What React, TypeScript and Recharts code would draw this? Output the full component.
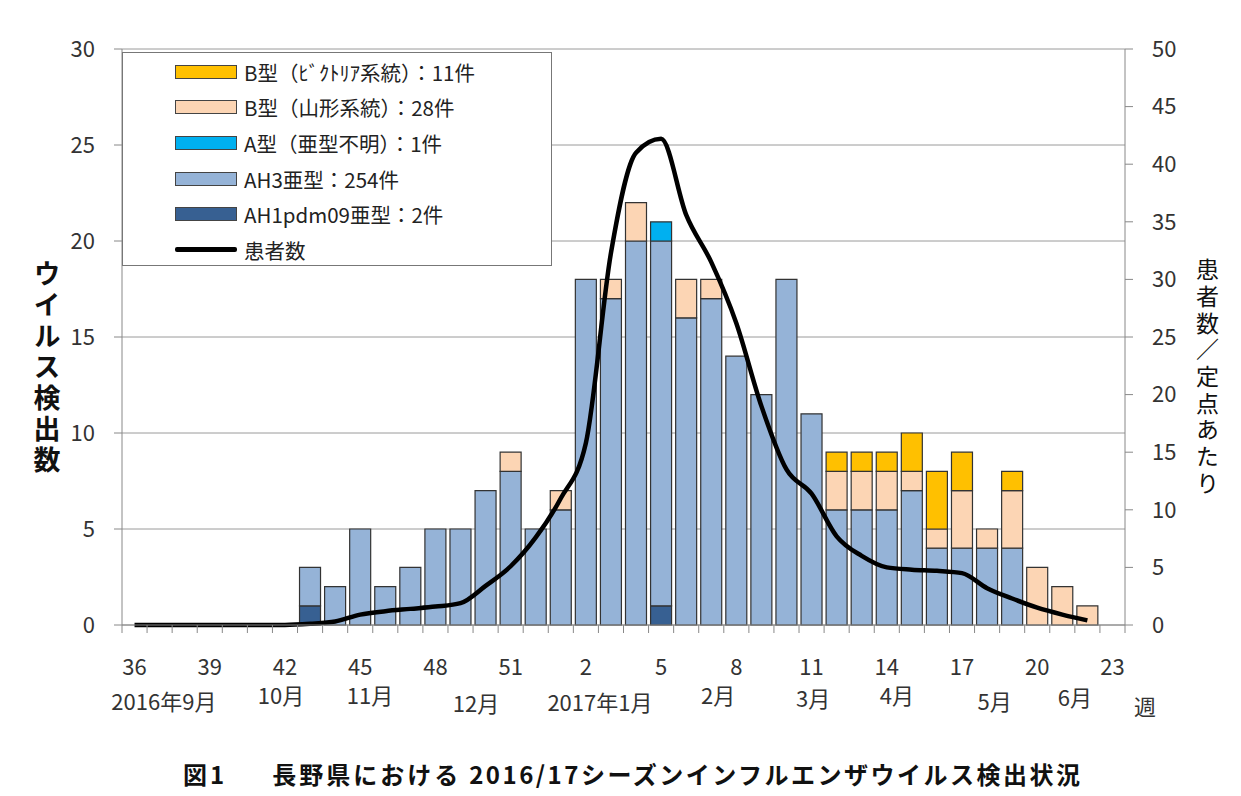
import React from "react";
import {
  ComposedChart,
  Bar,
  Line,
  XAxis,
  YAxis,
  CartesianGrid,
} from "recharts";

// 週（2016年36週〜2017年23週）
const weeks = [
  "36", "37", "38", "39", "40", "41", "42", "43", "44", "45", "46", "47", "48",
  "49", "50", "51", "52", "1", "2", "3", "4", "5", "6", "7", "8", "9", "10",
  "11", "12", "13", "14", "15", "16", "17", "18", "19", "20", "21", "22", "23",
];

const ah1pdm09 = [
  0, 0, 0, 0, 0, 0, 0, 1, 0, 0, 0, 0, 0, 0, 0, 0, 0, 0, 0, 0, 0, 1, 0, 0, 0, 0,
  0, 0, 0, 0, 0, 0, 0, 0, 0, 0, 0, 0, 0, 0,
];
const ah3 = [
  0, 0, 0, 0, 0, 0, 0, 2, 2, 5, 2, 3, 5, 5, 7, 8, 5, 6, 18, 17, 20, 19, 16, 17,
  14, 12, 18, 11, 6, 6, 6, 7, 4, 4, 4, 4, 0, 0, 0, 0,
];
const aUnknown = [
  0, 0, 0, 0, 0, 0, 0, 0, 0, 0, 0, 0, 0, 0, 0, 0, 0, 0, 0, 0, 0, 1, 0, 0, 0, 0,
  0, 0, 0, 0, 0, 0, 0, 0, 0, 0, 0, 0, 0, 0,
];
const bYamagata = [
  0, 0, 0, 0, 0, 0, 0, 0, 0, 0, 0, 0, 0, 0, 0, 1, 0, 1, 0, 1, 2, 0, 2, 1, 0, 0,
  0, 0, 2, 2, 2, 1, 1, 3, 1, 3, 3, 2, 1, 0,
];
const bVictoria = [
  0, 0, 0, 0, 0, 0, 0, 0, 0, 0, 0, 0, 0, 0, 0, 0, 0, 0, 0, 0, 0, 0, 0, 0, 0, 0,
  0, 0, 1, 1, 1, 2, 3, 2, 0, 1, 0, 0, 0, 0,
];
// 患者数／定点あたり
const patients: (number | null)[] = [
  0, 0, 0, 0, 0, 0, 0, 0.1, 0.3, 0.9, 1.2, 1.4, 1.6, 1.9, 3.4, 5.1, 7.6, 11.0,
  15.8, 32.3, 41.0, 42.2, 35.6, 31.5, 26.2, 19.0, 13.5, 11.4, 7.7, 6.0, 5.0,
  4.8, 4.7, 4.5, 3.2, 2.3, 1.5, 0.9, 0.4, null,
];

const leftTicks = [0, 5, 10, 15, 20, 25, 30];
const rightTicks = [0, 5, 10, 15, 20, 25, 30, 35, 40, 45, 50];

const monthLabels = [
  "2016年9月", "10月", "11月", "12月", "2017年1月", "2月", "3月", "4月", "5月", "6月", "週",
];
// 月ラベルの位置（週インデックス単位）と縦位置
const monthAt = [1.17, 5.84, 9.39, 13.62, 18.56, 23.27, 27.06, 30.4, 34.3, 37.5, 40.3];
const monthY = [692, 686, 686, 694, 693, 686, 689, 686, 692, 688, 697];

const legendItems = [
  { key: "bVictoria", label: "B型（ﾋﾞｸﾄﾘｱ系統）：11件", color: "#FFC000" },
  { key: "bYamagata", label: "B型（山形系統）：28件", color: "#FCD5B4" },
  { key: "aUnknown", label: "A型（亜型不明）：1件", color: "#00B0F0" },
  { key: "ah3", label: "AH3亜型：254件", color: "#95B3D7" },
  { key: "ah1pdm09", label: "AH1pdm09亜型：2件", color: "#376092" },
];

const data = weeks.map((w, i) => ({
  week: w,
  ah1pdm09: ah1pdm09[i],
  ah3: ah3[i],
  aUnknown: aUnknown[i],
  bYamagata: bYamagata[i],
  bVictoria: bVictoria[i],
  patients: patients[i],
}));

const FONT = '"Noto Sans CJK JP", "Noto Sans", sans-serif';
const W = 1225;
const H = 780;
const PLOT_LEFT = 114;
const PLOT_W = 1003;
const BAND = PLOT_W / weeks.length;

function WeekTick(props: any) {
  const { x, y, payload, index } = props;
  const half = BAND / 2;
  return (
    <g>
      <line x1={x - half} x2={x - half} y1={y} y2={y + 8} stroke="#888" />
      {index === weeks.length - 1 && (
        <line x1={x + half} x2={x + half} y1={y} y2={y + 8} stroke="#888" />
      )}
      {index % 3 === 0 && (
        <text
          x={x}
          y={y + 40}
          textAnchor="middle"
          dominantBaseline="central"
          fontSize={22}
          fill="#333"
          fontFamily={FONT}
        >
          {payload.value}
        </text>
      )}
    </g>
  );
}

export default function App() {
  const order = [...legendItems].reverse();
  const rowStyle = {
    display: "flex",
    alignItems: "center",
    height: 35.6,
    fontSize: 20.5,
    color: "#222",
  } as const;
  return (
    <div style={{ position: "relative", width: W, height: H, fontFamily: FONT }}>
      <div
        style={{
          position: "absolute",
          left: -1,
          top: -1,
          width: W + 20,
          height: H + 20,
          borderLeft: "1px solid #bdbdbd",
          borderTop: "1px solid #bdbdbd",
        }}
      />
      <ComposedChart
        width={W}
        height={H}
        data={data}
        margin={{ top: 41, right: 48, left: 54, bottom: 123 }}
      >
        <CartesianGrid yAxisId="left" vertical={false} stroke="#9a9a9a" />
        <XAxis
          dataKey="week"
          interval={0}
          height={40}
          tickSize={0}
          tickMargin={0}
          tickLine={false}
          axisLine={{ stroke: "#888" }}
          tick={<WeekTick />}
        />
        <YAxis
          yAxisId="left"
          width={60}
          domain={[0, 30]}
          ticks={leftTicks}
          tickSize={8}
          tickMargin={19}
          axisLine={{ stroke: "#888" }}
          tickLine={{ stroke: "#888" }}
          tick={{ fill: "#333", fontSize: 22, fontFamily: FONT }}
        />
        <YAxis
          yAxisId="right"
          orientation="right"
          width={60}
          domain={[0, 50]}
          ticks={rightTicks}
          tickSize={8}
          tickMargin={19}
          axisLine={{ stroke: "#888" }}
          tickLine={{ stroke: "#888" }}
          tick={{ fill: "#333", fontSize: 22, fontFamily: FONT }}
        />
        {order.map((s) => (
          <Bar
            key={s.key}
            yAxisId="left"
            dataKey={s.key}
            stackId="a"
            barSize={21}
            fill={s.color}
            stroke="#333"
            strokeWidth={1.2}
            isAnimationActive={false}
          />
        ))}
        <Line
          yAxisId="right"
          dataKey="patients"
          type="monotone"
          stroke="#000"
          strokeWidth={4.5}
          dot={false}
          isAnimationActive={false}
        />
      </ComposedChart>

      {/* 凡例 */}
      <div
        style={{
          position: "absolute",
          left: PLOT_LEFT,
          top: 44,
          width: 430,
          height: 214,
          boxSizing: "border-box",
          background: "#fff",
          border: "1.5px solid #777",
          paddingTop: 1,
        }}
      >
        {legendItems.map((it) => (
          <div key={it.key} style={rowStyle}>
            <div
              style={{
                marginLeft: 52,
                width: 62,
                height: 14,
                boxSizing: "border-box",
                background: it.color,
                border: "1.5px solid #444",
              }}
            />
            <span style={{ marginLeft: 7 }}>{it.label}</span>
          </div>
        ))}
        <div style={rowStyle}>
          <div style={{ marginLeft: 52, width: 62, height: 5, background: "#000", borderRadius: 2 }} />
          <span style={{ marginLeft: 7 }}>患者数</span>
        </div>
      </div>

      {/* 月ラベル */}
      {monthLabels.map((m, i) => (
        <div
          key={m}
          style={{
            position: "absolute",
            left: PLOT_LEFT + (monthAt[i] + 0.5) * BAND,
            top: monthY[i],
            transform: "translate(-50%, -50%)",
            fontSize: 22,
            color: "#333",
            whiteSpace: "nowrap",
          }}
        >
          {m}
        </div>
      ))}

      {/* 軸タイトル */}
      <div
        style={{
          position: "absolute",
          left: 39,
          top: 252,
          transform: "translateX(-50%)",
          writingMode: "vertical-rl",
          textOrientation: "upright",
          fontSize: 27,
          fontWeight: "bold",
          letterSpacing: 4,
          lineHeight: 1,
          color: "#111",
        }}
      >
        ウイルス検出数
      </div>
      <div
        style={{
          position: "absolute",
          left: 1199,
          top: 250,
          transform: "translateX(-50%)",
          writingMode: "vertical-rl",
          textOrientation: "upright",
          fontSize: 23,
          letterSpacing: 3.7,
          lineHeight: 1,
          color: "#111",
        }}
      >
        患者数／定点あたり
      </div>

      {/* 図タイトル */}
      <div
        style={{
          position: "absolute",
          left: 175,
          top: 765,
          transform: "translateY(-50%)",
          fontSize: 24,
          fontWeight: "bold",
          letterSpacing: 3,
          color: "#111",
          whiteSpace: "pre",
        }}
      >
        <span>図1</span>
        <span style={{ marginLeft: 45 }}>長野県における</span>
        <span style={{ marginLeft: 8, letterSpacing: 2.5 }}>2016/17シーズンインフルエンザウイルス検出状況</span>
      </div>
    </div>
  );
}
